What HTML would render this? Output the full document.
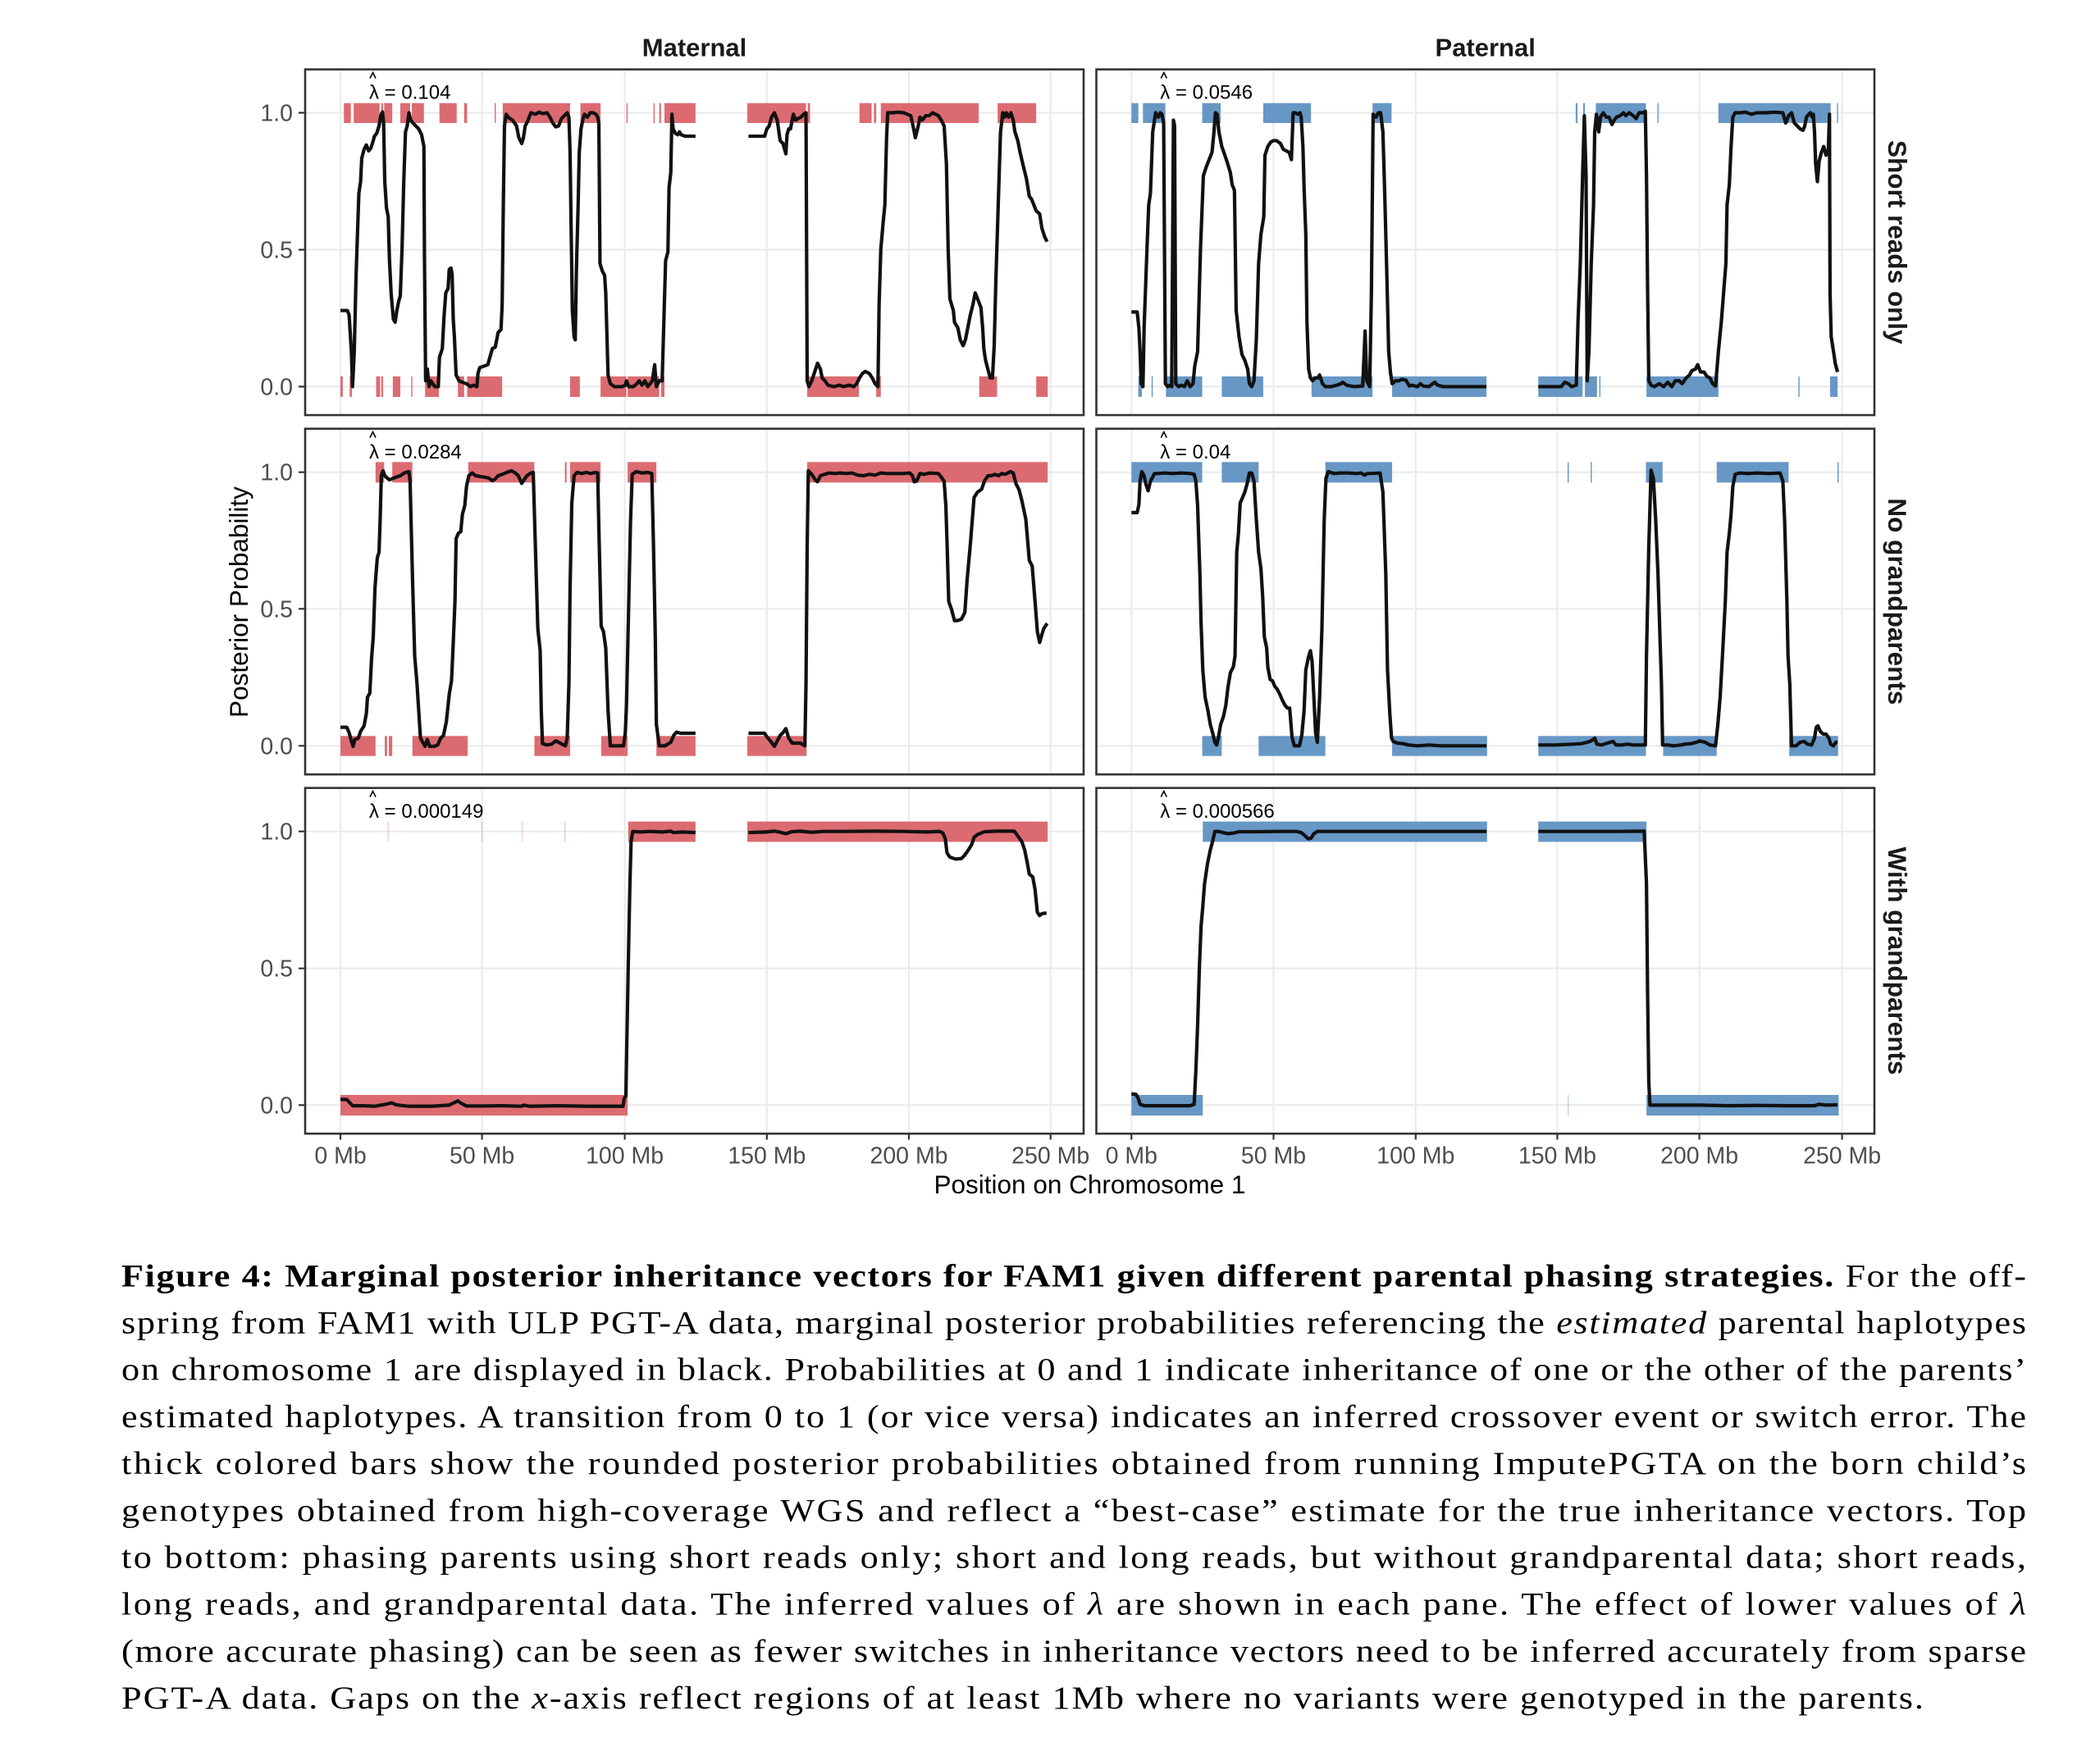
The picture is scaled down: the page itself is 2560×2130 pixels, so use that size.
<!DOCTYPE html>
<html><head><meta charset="utf-8"><style>
html,body{margin:0;padding:0;background:#fff;}
svg{display:block;}
</style></head><body>
<svg width="2560" height="2130" viewBox="0 0 2560 2130" xmlns="http://www.w3.org/2000/svg">
<rect x="0" y="0" width="2560" height="2130" fill="#fff"/>

<g fill="#fff">
<rect x="372" y="84.6" width="949" height="421.5"/>
<rect x="1336.5" y="84.6" width="948.5" height="421.5"/>
<rect x="372" y="522.7" width="949" height="421.5"/>
<rect x="1336.5" y="522.7" width="948.5" height="421.5"/>
<rect x="372" y="960.7" width="949" height="421.5"/>
<rect x="1336.5" y="960.7" width="948.5" height="421.5"/>
</g>
<g stroke="#ebebeb" stroke-width="2.2" fill="none">
<path d="M415 84.6V506.1M587.6 84.6V506.1M761.6 84.6V506.1M934.8 84.6V506.1M1108 84.6V506.1M1280.7 84.6V506.1M372 137.5H1321M372 304.5H1321M372 471.4H1321"/>
<path d="M1379.3 84.6V506.1M1552.5 84.6V506.1M1725.8 84.6V506.1M1898.4 84.6V506.1M2071.6 84.6V506.1M2245.6 84.6V506.1M1336.5 137.5H2285M1336.5 304.5H2285M1336.5 471.4H2285"/>
<path d="M415 522.7V944.2M587.6 522.7V944.2M761.6 522.7V944.2M934.8 522.7V944.2M1108 522.7V944.2M1280.7 522.7V944.2M372 575.7H1321M372 742.3H1321M372 909.3H1321"/>
<path d="M1379.3 522.7V944.2M1552.5 522.7V944.2M1725.8 522.7V944.2M1898.4 522.7V944.2M2071.6 522.7V944.2M2245.6 522.7V944.2M1336.5 575.7H2285M1336.5 742.3H2285M1336.5 909.3H2285"/>
<path d="M415 960.7V1382.2M587.6 960.7V1382.2M761.6 960.7V1382.2M934.8 960.7V1382.2M1108 960.7V1382.2M1280.7 960.7V1382.2M372 1013.7H1321M372 1180.7H1321M372 1347.4H1321"/>
<path d="M1379.3 960.7V1382.2M1552.5 960.7V1382.2M1725.8 960.7V1382.2M1898.4 960.7V1382.2M2071.6 960.7V1382.2M2245.6 960.7V1382.2M1336.5 1013.7H2285M1336.5 1180.7H2285M1336.5 1347.4H2285"/>
</g>

<!-- ROW 1 MATERNAL -->
<g transform="translate(260,0) scale(0.701525,0.357143)">
<g fill="#dc6b71">
<rect x="227" y="352" width="12" height="68"/><rect x="244" y="352" width="45" height="68"/><rect x="292" y="352" width="3" height="68"/><rect x="297" y="352" width="14" height="68"/><rect x="325" y="352" width="17" height="68"/><rect x="345" y="352" width="21" height="68"/><rect x="393" y="352" width="30" height="68"/><rect x="436" y="352" width="5" height="68"/><rect x="489" y="352" width="2" height="68"/><rect x="503" y="352" width="117" height="68"/><rect x="638" y="352" width="35" height="68"/><rect x="718" y="352" width="2" height="68"/><rect x="765" y="352" width="2" height="68"/><rect x="775" y="352" width="3" height="68"/><rect x="784" y="352" width="54" height="68"/><rect x="928" y="352" width="102" height="68"/><rect x="1033" y="352" width="4" height="68"/><rect x="1123" y="352" width="21" height="68"/><rect x="1148" y="352" width="4" height="68"/><rect x="1160" y="352" width="170" height="68"/><rect x="1363" y="352" width="67" height="68"/>
<rect x="221" y="1285" width="4" height="70"/><rect x="237" y="1285" width="4" height="70"/><rect x="283" y="1285" width="7" height="70"/><rect x="292" y="1285" width="3" height="70"/><rect x="312" y="1285" width="13" height="70"/><rect x="344" y="1285" width="2" height="70"/><rect x="368" y="1285" width="24" height="70"/><rect x="425" y="1285" width="11" height="70"/><rect x="441" y="1285" width="61" height="70"/><rect x="620" y="1285" width="17" height="70"/><rect x="673" y="1285" width="45" height="70"/><rect x="720" y="1285" width="55" height="70"/><rect x="778" y="1285" width="6" height="70"/><rect x="1032" y="1285" width="90" height="70"/><rect x="1152" y="1285" width="8" height="70"/><rect x="1331" y="1285" width="31" height="70"/><rect x="1430" y="1285" width="20" height="70"/>
</g>
<g fill="none" stroke="#111" stroke-width="4.2" stroke-linejoin="round">
<polyline vector-effect="non-scaling-stroke" points="221,1060 233,1060 236,1075 240,1200 242,1320 245,1200 248,950 250,830 253,660 256,620 258,540 262,510 266,495 270,515 274,505 278,480 280,465 284,455 288,430 291,395 294,382 296,420 298,620 301,710 304,740 306,880 309,1000 313,1090 316,1100 319,1060 322,1030 325,1010 328,850 331,620 334,450 337,430 340,385 343,410 347,420 352,430 357,440 362,460 366,500 367,880 369,1300 372,1260 375,1320 378,1300 385,1320 391,1320 393,1220 398,1190 401,1080 404,1000 408,985 410,920 413,915 415,935 417,1090 419,1150 422,1280 427,1300 433,1305 440,1310 447,1320 452,1315 458,1320 460,1275 463,1255 470,1250 477,1245 485,1190 490,1185 495,1135 500,1125 502,1040 504,700 506,430 509,390 512,400 520,410 527,430 531,470 536,490 539,470 542,430 546,415 552,385 560,390 566,383 573,388 580,385 585,400 590,420 595,433 600,430 605,405 610,395 615,385 618,400 620,520 622,800 624,1060 627,1150 629,1160 631,920 634,700 636,520 639,440 642,410 645,390 650,400 655,385 660,385 665,390 668,400 670,420 672,900 676,925 680,940 682,1000 686,1280 690,1310 697,1320 710,1320 716,1315 718,1300 722,1320 730,1320 736,1310 740,1300 745,1315 750,1300 755,1320 763,1300 767,1245 770,1320 775,1300 780,1300 786,890 790,860 792,640 795,590 797,390 799,440 803,455 807,460 810,450 813,460 820,465 838,465"/>
<polyline vector-effect="non-scaling-stroke" points="930,465 958,465 962,440 966,430 970,400 975,385 980,410 985,480 990,490 995,525 997,460 1000,440 1003,440 1008,390 1012,410 1016,405 1021,400 1026,390 1030,385 1032,1300 1035,1320 1040,1300 1045,1270 1050,1240 1055,1260 1058,1290 1063,1300 1068,1315 1078,1320 1088,1315 1095,1320 1105,1315 1113,1320 1118,1310 1123,1290 1128,1275 1133,1268 1140,1275 1145,1290 1150,1310 1155,1320 1157,1040 1160,850 1164,760 1167,700 1170,470 1172,385 1180,385 1190,383 1200,385 1212,395 1216,430 1220,470 1225,430 1228,400 1232,410 1238,395 1244,395 1250,385 1255,390 1260,395 1265,410 1270,430 1274,560 1277,850 1280,1020 1286,1060 1288,1100 1294,1120 1298,1160 1303,1180 1307,1160 1311,1120 1315,1080 1320,1040 1324,1000 1328,1020 1334,1050 1337,1120 1339,1190 1342,1230 1346,1260 1350,1290 1354,1290 1357,1180 1360,950 1364,700 1368,450 1372,385 1375,400 1378,385 1382,400 1386,385 1390,410 1393,450 1398,480 1402,520 1408,570 1413,610 1418,670 1422,680 1426,700 1430,720 1436,730 1440,780 1445,810 1449,825"/>
</g>
</g>

<!-- ROW 1 PATERNAL -->
<g transform="translate(1300,0) scale(0.701525,0.357143)">
<g fill="#6797c5">
<rect x="113" y="352" width="12" height="68"/><rect x="133" y="352" width="39" height="68"/><rect x="236" y="352" width="32" height="68"/><rect x="342" y="352" width="83" height="68"/><rect x="532" y="352" width="33" height="68"/><rect x="885" y="352" width="3" height="68"/><rect x="898" y="352" width="3" height="68"/><rect x="920" y="352" width="87" height="68"/><rect x="1027" y="352" width="2" height="68"/><rect x="1133" y="352" width="195" height="68"/><rect x="1339" y="352" width="2" height="68"/>
<rect x="125" y="1285" width="6" height="70"/><rect x="148" y="1285" width="2" height="70"/><rect x="173" y="1285" width="63" height="70"/><rect x="270" y="1285" width="72" height="70"/><rect x="426" y="1285" width="106" height="70"/><rect x="566" y="1285" width="164" height="70"/><rect x="820" y="1285" width="77" height="70"/><rect x="901" y="1285" width="21" height="70"/><rect x="926" y="1285" width="2" height="70"/><rect x="1008" y="1285" width="125" height="70"/><rect x="1272" y="1285" width="2" height="70"/><rect x="1327" y="1285" width="13" height="70"/>
</g>
<g fill="none" stroke="#111" stroke-width="4.2" stroke-linejoin="round">
<polyline vector-effect="non-scaling-stroke" points="113,1065 123,1065 126,1120 128,1200 130,1310 133,1320 135,1120 140,850 143,700 146,660 150,450 155,385 160,400 163,385 166,390 169,420 172,1310 176,1320 180,1315 183,1320 186,410 188,430 190,1310 195,1320 200,1315 205,1320 210,1300 215,1320 220,1310 223,1250 228,1200 233,850 238,600 243,570 248,545 253,520 256,460 259,385 262,390 265,450 270,500 278,545 285,590 288,630 292,650 295,1060 300,1150 305,1210 310,1230 315,1260 318,1310 322,1320 326,1300 330,1160 334,900 338,800 343,740 345,530 350,500 355,485 360,480 365,480 372,490 377,510 382,515 387,520 391,545 394,385 398,385 402,390 406,385 408,400 411,500 413,640 416,800 418,1100 421,1260 424,1290 428,1300 432,1290 437,1290 440,1280 445,1310 450,1320 460,1320 470,1315 477,1310 480,1305 487,1315 500,1320 515,1318 519,1130 522,1300 527,1320 530,1000 533,390 538,400 542,385 546,385 550,450 553,650 557,950 560,1200 563,1270 566,1310 572,1300 578,1300 583,1295 590,1298 596,1318 600,1315 610,1320 615,1310 620,1318 630,1320 640,1305 645,1315 655,1320 700,1320 730,1320"/>
<polyline vector-effect="non-scaling-stroke" points="820,1320 860,1320 866,1305 872,1310 878,1320 886,1315 889,1100 893,900 897,600 900,395 903,600 905,1300 908,1200 912,900 916,700 918,450 921,390 925,450 928,400 933,385 938,400 943,400 948,425 952,410 956,400 962,395 968,385 972,395 978,385 985,395 990,405 995,385 1002,385 1006,380 1008,600 1010,1000 1012,1300 1016,1315 1022,1320 1030,1310 1038,1320 1045,1305 1052,1320 1058,1300 1065,1300 1070,1310 1077,1290 1083,1280 1087,1265 1093,1260 1097,1245 1102,1270 1108,1270 1113,1285 1118,1290 1123,1310 1128,1318 1133,1200 1138,1100 1142,1000 1146,900 1148,700 1152,630 1155,500 1158,400 1162,385 1170,385 1180,383 1190,390 1200,385 1215,385 1230,383 1245,385 1250,420 1255,395 1260,385 1265,420 1270,430 1275,440 1280,445 1283,430 1286,400 1290,390 1293,385 1296,400 1298,390 1300,450 1302,560 1305,620 1308,550 1312,520 1316,500 1320,530 1324,510 1326,390 1327,1000 1329,1150 1333,1200 1336,1240 1340,1270"/>
</g>
</g>

<!-- ROW 2 MATERNAL -->
<g transform="translate(260,500) scale(0.701525,0.333333)">
<g fill="#dc6b71">
<rect x="282" y="190" width="15" height="75"/><rect x="311" y="190" width="35" height="75"/><rect x="443" y="190" width="115" height="75"/><rect x="611" y="190" width="3" height="75"/><rect x="620" y="190" width="53" height="75"/><rect x="720" y="190" width="50" height="75"/><rect x="1032" y="190" width="418" height="75"/>
<rect x="221" y="1192" width="61" height="73"/><rect x="298" y="1192" width="4" height="73"/><rect x="305" y="1192" width="6" height="73"/><rect x="346" y="1192" width="96" height="73"/><rect x="558" y="1192" width="62" height="73"/><rect x="674" y="1192" width="46" height="73"/><rect x="770" y="1192" width="68" height="73"/><rect x="928" y="1192" width="103" height="73"/>
</g>
<g fill="none" stroke="#111" stroke-width="4.2" stroke-linejoin="round">
<polyline vector-effect="non-scaling-stroke" points="221,1160 232,1160 236,1180 240,1210 243,1230 246,1205 252,1200 256,1175 262,1155 266,1110 268,1050 272,1035 275,910 278,830 281,650 285,540 288,520 290,400 292,240 295,222 298,240 302,248 306,255 312,250 318,245 325,240 332,230 340,225 342,260 346,600 350,900 354,1000 357,1100 360,1200 364,1215 368,1230 372,1205 376,1230 384,1230 390,1225 395,1200 400,1190 405,1140 410,1040 414,990 416,900 420,700 422,470 426,450 430,445 433,380 437,350 440,280 444,240 450,230 456,240 462,242 470,245 478,248 485,258 490,252 495,240 502,235 510,228 518,222 525,230 530,240 536,268 540,255 545,240 552,230 556,228 560,520 564,800 568,880 570,1100 572,1220 580,1225 588,1222 595,1210 600,1215 606,1222 612,1228 615,1200 618,1000 620,650 623,340 627,240 632,228 640,232 648,228 656,232 664,228 668,230 670,430 674,790 678,810 682,870 686,1100 690,1228 700,1228 713,1228 716,1180 718,1080 722,700 725,410 728,235 735,225 745,230 755,228 762,232 765,500 768,820 770,1150 775,1228 785,1228 795,1215 800,1190 805,1178 812,1182 820,1182 838,1182"/>
<polyline vector-effect="non-scaling-stroke" points="930,1182 958,1182 962,1195 968,1210 975,1230 985,1190 990,1180 995,1165 1000,1200 1006,1218 1012,1218 1020,1218 1028,1228 1030,1000 1032,500 1034,222 1040,235 1046,255 1050,262 1055,240 1062,235 1070,230 1080,232 1090,230 1100,232 1110,230 1120,238 1130,240 1140,235 1150,238 1160,230 1170,232 1185,232 1200,232 1210,230 1215,240 1218,262 1222,260 1228,232 1235,235 1245,230 1260,232 1265,245 1270,260 1273,350 1275,480 1278,700 1283,730 1288,770 1293,770 1300,765 1306,740 1310,620 1316,480 1322,320 1328,300 1335,290 1340,260 1346,240 1352,240 1358,235 1365,240 1370,232 1376,235 1385,225 1390,230 1395,270 1400,290 1405,330 1412,400 1418,550 1423,570 1428,700 1432,810 1436,850 1440,820 1443,800 1446,790 1449,780"/>
</g>
</g>

<!-- ROW 2 PATERNAL -->
<g transform="translate(1300,500) scale(0.701525,0.333333)">
<g fill="#6797c5">
<rect x="113" y="190" width="123" height="75"/><rect x="270" y="190" width="64" height="75"/><rect x="450" y="190" width="116" height="75"/><rect x="871" y="190" width="2" height="75"/><rect x="911" y="190" width="2" height="75"/><rect x="1007" y="190" width="29" height="75"/><rect x="1130" y="190" width="125" height="75"/><rect x="1340" y="190" width="2" height="75"/>
<rect x="236" y="1192" width="34" height="73"/><rect x="334" y="1192" width="116" height="73"/><rect x="566" y="1192" width="165" height="73"/><rect x="820" y="1192" width="187" height="73"/><rect x="1037" y="1192" width="93" height="73"/><rect x="1256" y="1192" width="85" height="73"/>
</g>
<g fill="none" stroke="#111" stroke-width="4.2" stroke-linejoin="round">
<polyline vector-effect="non-scaling-stroke" points="113,375 123,375 126,345 128,260 131,225 135,240 138,270 142,295 146,260 150,245 153,232 160,232 170,230 185,232 200,230 215,232 222,235 225,260 228,350 232,600 234,780 237,950 241,1050 246,1100 250,1150 254,1180 258,1215 261,1225 264,1200 268,1150 273,1120 277,1080 281,1010 285,960 290,940 293,900 296,520 299,450 302,340 306,320 310,300 314,270 318,230 322,230 326,260 330,400 334,520 338,580 341,680 344,830 348,870 350,940 354,985 358,990 362,1010 366,1020 371,1040 375,1060 380,1080 384,1090 388,1090 392,1195 396,1228 405,1228 409,1190 413,1100 416,950 421,900 424,880 427,920 430,1050 433,1180 436,1215 440,1050 444,800 448,400 451,250 455,225 465,232 475,230 490,230 505,232 512,230 518,238 523,232 530,232 545,230 550,300 555,600 558,950 562,1110 565,1200 568,1212 575,1218 585,1220 595,1225 610,1228 630,1225 650,1228 700,1228 730,1228"/>
<polyline vector-effect="non-scaling-stroke" points="820,1225 850,1225 880,1222 895,1220 905,1215 912,1210 918,1200 922,1222 930,1225 940,1218 950,1212 955,1225 965,1225 975,1222 985,1225 1000,1225 1006,1225 1008,900 1012,500 1016,220 1020,250 1024,400 1028,600 1031,800 1034,1000 1036,1225 1045,1225 1055,1228 1068,1225 1075,1222 1085,1220 1095,1215 1100,1210 1110,1215 1118,1225 1128,1228 1132,1150 1136,1050 1140,900 1145,700 1148,520 1152,450 1155,380 1158,280 1162,235 1170,230 1185,232 1200,230 1220,232 1240,230 1245,260 1248,400 1252,700 1254,900 1257,1000 1260,1228 1268,1228 1275,1215 1282,1212 1288,1222 1295,1225 1300,1200 1303,1160 1306,1155 1310,1175 1315,1185 1320,1185 1325,1200 1328,1222 1333,1228 1337,1215 1340,1215"/>
</g>
</g>

<!-- ROW 3 MATERNAL -->
<g transform="translate(260,940) scale(0.701525,0.344378)">
<g fill="#dc6b71">
<rect x="721" y="179" width="117" height="72"/><rect x="928" y="179" width="522" height="72"/>
<rect x="303" y="179" width="2" height="72" opacity="0.35"/><rect x="466" y="179" width="2" height="72" opacity="0.35"/><rect x="536" y="179" width="2" height="72" opacity="0.3"/><rect x="610" y="179" width="2" height="72" opacity="0.35"/>
<rect x="221" y="1147" width="499" height="73"/>
</g>
<g fill="none" stroke="#111" stroke-width="4.2" stroke-linejoin="round">
<polyline vector-effect="non-scaling-stroke" points="221,1163 232,1163 236,1172 242,1185 260,1185 280,1187 300,1180 310,1175 318,1182 340,1187 380,1187 410,1183 418,1175 425,1168 432,1178 440,1186 470,1186 500,1185 535,1187 540,1183 550,1187 600,1185 650,1187 712,1187 714,1160 717,1150 718,1030 721,700 724,400 726,250 729,214 740,216 760,214 780,216 795,213 800,218 815,216 838,218"/>
<polyline vector-effect="non-scaling-stroke" points="930,218 960,216 975,213 985,217 995,222 1005,215 1020,213 1040,217 1060,214 1100,214 1150,213 1200,214 1240,216 1262,214 1268,220 1272,240 1275,290 1280,305 1290,312 1300,310 1305,300 1312,280 1318,260 1322,235 1328,225 1340,215 1360,213 1380,213 1392,213 1398,230 1405,250 1410,280 1414,320 1418,365 1424,375 1428,420 1432,500 1436,512 1440,505 1448,503"/>
</g>
</g>

<!-- ROW 3 PATERNAL -->
<g transform="translate(1300,940) scale(0.701525,0.344378)">
<g fill="#6797c5">
<rect x="237" y="179" width="494" height="72"/><rect x="820" y="179" width="188" height="72"/>
<rect x="113" y="1147" width="124" height="73"/><rect x="1008" y="1147" width="334" height="73"/>
<rect x="871" y="1147" width="2" height="73" opacity="0.4"/>
</g>
<g fill="none" stroke="#111" stroke-width="4.2" stroke-linejoin="round">
<polyline vector-effect="non-scaling-stroke" points="113,1143 121,1145 125,1160 128,1180 135,1185 150,1185 180,1185 215,1185 222,1180 225,1060 228,900 231,700 234,550 237,480 240,400 245,330 250,280 254,250 258,214 264,214 272,218 280,222 290,220 300,215 330,215 370,214 400,214 408,218 414,228 420,240 425,238 430,222 436,214 480,214 550,214 650,214 730,214"/>
<polyline vector-effect="non-scaling-stroke" points="820,214 900,214 960,214 1004,213 1008,400 1010,800 1012,1100 1014,1183 1050,1183 1100,1183 1150,1185 1200,1184 1250,1185 1300,1185 1308,1180 1320,1183 1340,1182"/>
</g>
</g>

<g fill="none" stroke="#333" stroke-width="2.6">
<rect x="372" y="84.6" width="949" height="421.5"/>
<rect x="1336.5" y="84.6" width="948.5" height="421.5"/>
<rect x="372" y="522.7" width="949" height="421.5"/>
<rect x="1336.5" y="522.7" width="948.5" height="421.5"/>
<rect x="372" y="960.7" width="949" height="421.5"/>
<rect x="1336.5" y="960.7" width="948.5" height="421.5"/>
</g>

<g stroke="#333" stroke-width="2.2">
<path d="M364 137.5H372M364 304.5H372M364 471.4H372M364 575.7H372M364 742.3H372M364 909.3H372M364 1013.7H372M364 1180.7H372M364 1347.4H372"/>
<path d="M415 1382.2V1389.5M587.6 1382.2V1389.5M761.6 1382.2V1389.5M934.8 1382.2V1389.5M1108 1382.2V1389.5M1280.7 1382.2V1389.5M1379.3 1382.2V1389.5M1552.5 1382.2V1389.5M1725.8 1382.2V1389.5M1898.4 1382.2V1389.5M2071.6 1382.2V1389.5M2245.6 1382.2V1389.5"/>
</g>

<g font-family="'Liberation Sans', Arial, sans-serif" font-size="28.5" fill="#4d4d4d">
<g text-anchor="end">
<text x="357" y="147.5">1.0</text><text x="357" y="314.5">0.5</text><text x="357" y="481.4">0.0</text>
<text x="357" y="585.7">1.0</text><text x="357" y="752.3">0.5</text><text x="357" y="919.3">0.0</text>
<text x="357" y="1023.7">1.0</text><text x="357" y="1190.7">0.5</text><text x="357" y="1357.4">0.0</text>
</g>
<g text-anchor="middle">
<text x="415" y="1418.5">0 Mb</text><text x="587.6" y="1418.5">50 Mb</text><text x="761.6" y="1418.5">100 Mb</text><text x="934.8" y="1418.5">150 Mb</text><text x="1108" y="1418.5">200 Mb</text><text x="1280.7" y="1418.5">250 Mb</text>
<text x="1379.3" y="1418.5">0 Mb</text><text x="1552.5" y="1418.5">50 Mb</text><text x="1725.8" y="1418.5">100 Mb</text><text x="1898.4" y="1418.5">150 Mb</text><text x="2071.6" y="1418.5">200 Mb</text><text x="2245.6" y="1418.5">250 Mb</text>
</g>
</g>

<g font-family="'Liberation Sans', Arial, sans-serif" fill="#000">
<text x="1328.5" y="1455" font-size="31.5" text-anchor="middle">Position on Chromosome 1</text>
<text transform="translate(302,734) rotate(-90)" font-size="31.5" text-anchor="middle">Posterior Probability</text>
<text x="846.5" y="68.5" font-size="31" font-weight="bold" text-anchor="middle" fill="#1a1a1a">Maternal</text>
<text x="1810.7" y="68.5" font-size="31" font-weight="bold" text-anchor="middle" fill="#1a1a1a">Paternal</text>
<text transform="translate(2302,295.3) rotate(90)" font-size="31.5" font-weight="bold" text-anchor="middle" fill="#1a1a1a">Short reads only</text>
<text transform="translate(2302,733.4) rotate(90)" font-size="31.5" font-weight="bold" text-anchor="middle" fill="#1a1a1a">No grandparents</text>
<text transform="translate(2302,1171.5) rotate(90)" font-size="31.5" font-weight="bold" text-anchor="middle" fill="#1a1a1a">With grandparents</text>
</g>

<g font-family="'Liberation Sans', Arial, sans-serif" font-size="24" fill="#000">
<text x="450" y="120.7">λ = 0.104</text>
<text x="1414.3" y="120.7">λ = 0.0546</text>
<text x="450" y="558.8">λ = 0.0284</text>
<text x="1414.3" y="558.8">λ = 0.04</text>
<text x="450" y="996.9">λ = 0.000149</text>
<text x="1414.3" y="996.9">λ = 0.000566</text>
</g>
<g fill="none" stroke="#000" stroke-width="1.6">
<polyline points="451,95.5 454.5,88.5 458,95.5"/>
<polyline points="1415.3,95.5 1418.8,88.5 1422.3,95.5"/>
<polyline points="451,533.6 454.5,526.6 458,533.6"/>
<polyline points="1415.3,533.6 1418.8,526.6 1422.3,533.6"/>
<polyline points="451,971.7 454.5,964.7 458,971.7"/>
<polyline points="1415.3,971.7 1418.8,964.7 1422.3,971.7"/>
</g>

<!-- Caption (horizontally stretched to mimic Palatino widths) -->
<g transform="scale(1.12,1)" font-family="'Liberation Serif', 'Times New Roman', serif" font-size="39.5" fill="#000">
<text x="132.14" y="1568.3" textLength="2073.2" lengthAdjust="spacing"><tspan font-weight="bold">Figure 4:  Marginal posterior inheritance vectors for FAM1 given different parental phasing strategies.</tspan>  For the off-</text>
<text x="132.14" y="1625.5" textLength="2073.2" lengthAdjust="spacing">spring from FAM1 with ULP PGT-A data, marginal posterior probabilities referencing the <tspan font-style="italic">estimated</tspan> parental haplotypes</text>
<text x="132.14" y="1682.7" textLength="2073.2" lengthAdjust="spacing">on chromosome 1 are displayed in black.  Probabilities at 0 and 1 indicate inheritance of one or the other of the parents’</text>
<text x="132.14" y="1739.9" textLength="2073.2" lengthAdjust="spacing">estimated haplotypes.  A transition from 0 to 1 (or vice versa) indicates an inferred crossover event or switch error.  The</text>
<text x="132.14" y="1797.1" textLength="2073.2" lengthAdjust="spacing">thick colored bars show the rounded posterior probabilities obtained from running ImputePGTA on the born child’s</text>
<text x="132.14" y="1854.3" textLength="2073.2" lengthAdjust="spacing">genotypes obtained from high-coverage WGS and reflect a “best-case” estimate for the true inheritance vectors.  Top</text>
<text x="132.14" y="1911.5" textLength="2073.2" lengthAdjust="spacing">to bottom:  phasing parents using short reads only; short and long reads, but without grandparental data; short reads,</text>
<text x="132.14" y="1968.7" textLength="2073.2" lengthAdjust="spacing">long reads, and grandparental data.  The inferred values of <tspan font-style="italic">λ</tspan> are shown in each pane.  The effect of lower values of <tspan font-style="italic">λ</tspan></text>
<text x="132.14" y="2025.9" textLength="2073.2" lengthAdjust="spacing">(more accurate phasing) can be seen as fewer switches in inheritance vectors need to be inferred accurately from sparse</text>
<text x="132.14" y="2083.1" textLength="1961.6" lengthAdjust="spacing">PGT-A data.  Gaps on the <tspan font-style="italic">x</tspan>-axis reflect regions of at least 1Mb where no variants were genotyped in the parents.</text>
</g>
</svg>
</body></html>
